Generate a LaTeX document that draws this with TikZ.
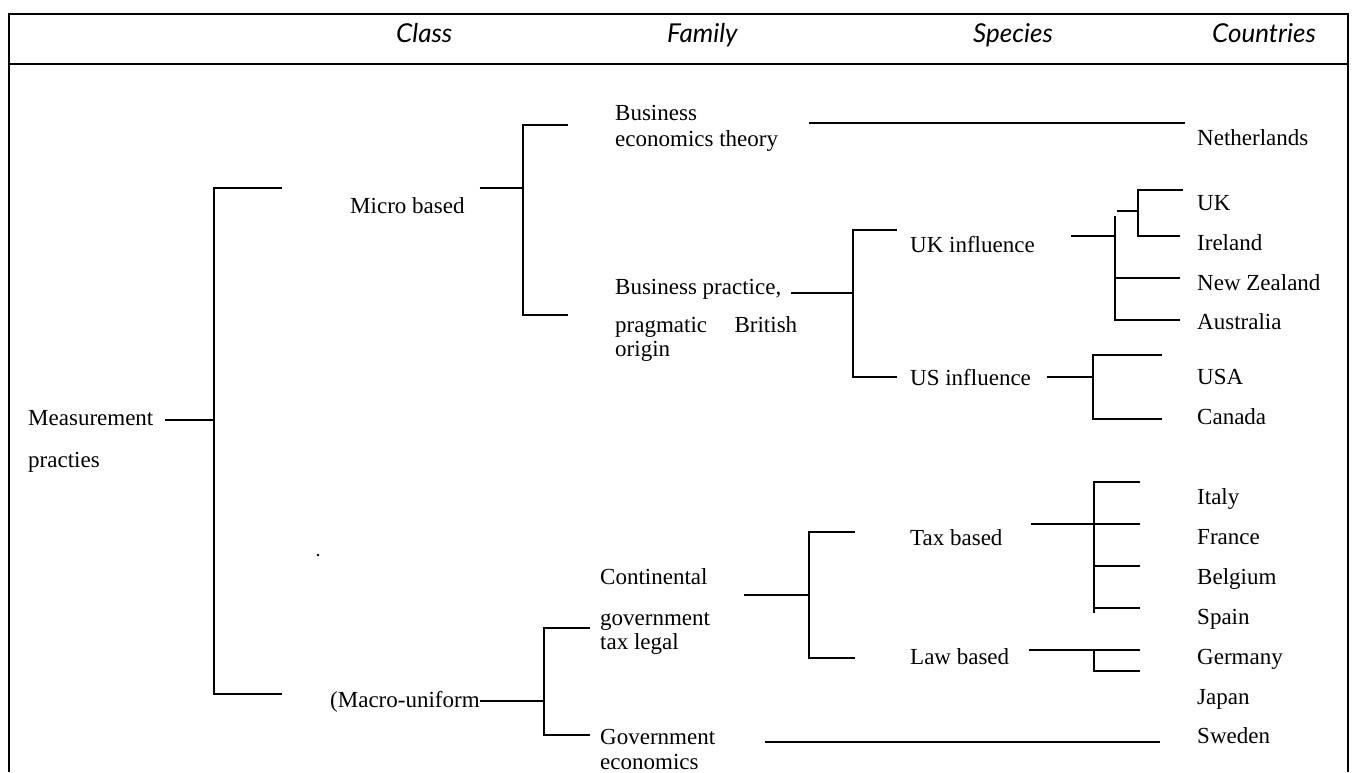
\documentclass[tikz,border=0pt]{standalone}
\usepackage{fontspec}
\setmainfont{Liberation Serif}
\newfontfamily\hdrfont{Lato}
\begin{document}
\begin{tikzpicture}[x=1pt,y=-1pt,
  ln/.style={line width=2.3pt, line cap=butt, line join=miter},
  lbl/.style={anchor=base west, inner sep=0pt, font=\fontsize{23}{26}\selectfont},
  hdr/.style={anchor=base west, inner sep=0pt, font=\hdrfont\itshape\fontsize{26}{30}\selectfont}]
\useasboundingbox (0,0) rectangle (1352,772);
% frame
\coordinate (fTL) at (9,14); \coordinate (fTR) at (1348,14);
\coordinate (fBL) at (9,772); \coordinate (fBR) at (1348,772);
\coordinate (sL) at (9,64); \coordinate (sR) at (1348,64);
\draw[ln] (fBL) -- (fTL) -- (fTR) -- (fBR);
\draw[ln] (sL) -- (sR);
% headers
\node[hdr] (hClass) at (396,42) {Class};
\node[hdr] (hFamily) at (667,42) {Family};
\node[hdr] (hSpecies) at (973,42) {Species};
\node[hdr] (hCountries) at (1212,42) {Countries};
% labels
\node[lbl] (meas) at (28,425) {Measurement};
\node[lbl] (meas2) at (28,467) {practies};
\node[lbl] (micro) at (350,213) {Micro based};
\node[lbl] (macro) at (330,707) {(Macro-uniform};
\node[lbl] (bet1) at (615,120) {Business};
\node[lbl] (bet2) at (615,146) {economics theory};
\node[lbl] (bp1) at (615,294) {Business practice,};
\node[lbl] (bp2) at (615,332) {\hbox to 182pt{pragmatic\hfill British}};
\node[lbl] (bp3) at (615,356) {origin};
\node[lbl] (ct1) at (600,584) {Continental};
\node[lbl] (ct2) at (600,625) {government};
\node[lbl] (ct3) at (600,649) {tax legal};
\node[lbl] (ge1) at (600,744) {Government};
\node[lbl] (ge2) at (600,769) {economics};
\node[lbl] (ukinf) at (910,252) {UK influence};
\node[lbl] (usinf) at (910,385) {US influence};
\node[lbl] (taxb) at (910,545) {Tax based};
\node[lbl] (lawb) at (910,664) {Law based};
\node[lbl] (nl) at (1197,145) {Netherlands};
\node[lbl] (uk) at (1197,210) {UK};
\node[lbl] (ie) at (1197,250) {Ireland};
\node[lbl] (nz) at (1197,290) {New Zealand};
\node[lbl] (au) at (1197,329) {Australia};
\node[lbl] (usa) at (1197,384) {USA};
\node[lbl] (ca) at (1197,424) {Canada};
\node[lbl] (it) at (1197,504) {Italy};
\node[lbl] (fr) at (1197,544) {France};
\node[lbl] (be) at (1197,584) {Belgium};
\node[lbl] (es) at (1197,624) {Spain};
\node[lbl] (de) at (1197,664) {Germany};
\node[lbl] (jp) at (1197,704) {Japan};
\node[lbl] (se) at (1197,743) {Sweden};
% ---- connectors ----
% Measurement -> class bracket
\coordinate (cJ) at (214,420);
\coordinate (cT) at (214,188); \coordinate (cTe) at (282,188);
\coordinate (cB) at (214,694); \coordinate (cBe) at (282,694);
\draw[ln] ([xshift=11pt]meas.east |- cJ) -- (cJ);
\draw[ln] (cTe) -- (cT) -- (cB) -- (cBe);
% Micro -> family bracket
\coordinate (mJ) at (523,188);
\coordinate (mT) at (523,125); \coordinate (mTe) at (568,125);
\coordinate (mB) at (523,315); \coordinate (mBe) at (568,315);
\draw[ln] ([xshift=15pt]micro.east |- mJ) -- (mJ);
\draw[ln] (mTe) -- (mT) -- (mB) -- (mBe);
% Business economics theory -> Netherlands
\coordinate (nlE) at (1185,123);
\draw[ln] ([xshift=31pt]bet2.east |- nlE) -- (nlE);
% Business practice -> species bracket
\coordinate (bJ) at (853,293);
\coordinate (bT) at (853,230); \coordinate (bTe) at (897,230);
\coordinate (bB) at (853,377); \coordinate (bBe) at (897,377);
\draw[ln] ([xshift=10pt]bp1.east |- bJ) -- (bJ);
\draw[ln] (bTe) -- (bT) -- (bB) -- (bBe);
% UK influence group
\coordinate (uJ) at (1115,236);
\draw[ln] ([xshift=36pt]ukinf.east |- uJ) -- (uJ);
\draw[ln] (1115,216) -- (1115,320) -- (1180,320);
\draw[ln] (1115,278) -- (1180,278);
\draw[ln] (1117,211) -- (1138,211);
\draw[ln] (1183,190) -- (1138,190) -- (1138,236) -- (1180,236);
% US influence group
\coordinate (sJ) at (1093,377);
\draw[ln] ([xshift=16pt]usinf.east |- sJ) -- (sJ);
\draw[ln] (1162,355) -- (1093,355) -- (1093,419) -- (1162,419);
% Macro -> bracket
\coordinate (aJ) at (544,701);
\draw[ln] (macro.east |- aJ) -- (aJ);
\draw[ln] (590,628) -- (544,628) -- (544,735) -- (590,735);
% Continental -> tax/law bracket
\coordinate (tJ) at (809,595);
\draw[ln] (744,595) -- (tJ);
\draw[ln] (855,532) -- (809,532) -- (809,658) -- (855,658);
% Tax based group
\coordinate (xJ) at (1094,524);
\draw[ln] ([xshift=28pt]taxb.east |- xJ) -- (1140,524);
\draw[ln] (1140,482) -- (1094,482) -- (1094,613);
\draw[ln] (1094,566) -- (1140,566);
\draw[ln] (1094,608) -- (1140,608);
% Law based group
\coordinate (wJ) at (1094,650);
\draw[ln] ([xshift=20pt]lawb.east |- wJ) -- (1140,650);
\draw[ln] (wJ) -- (1094,671) -- (1140,671);
% Government economics -> Sweden
\coordinate (gE) at (1160,742);
\draw[ln] ([xshift=50pt]ge1.east |- gE) -- (gE);
% speck
\fill (318,555) circle (1.3);
\end{tikzpicture}
\end{document}
